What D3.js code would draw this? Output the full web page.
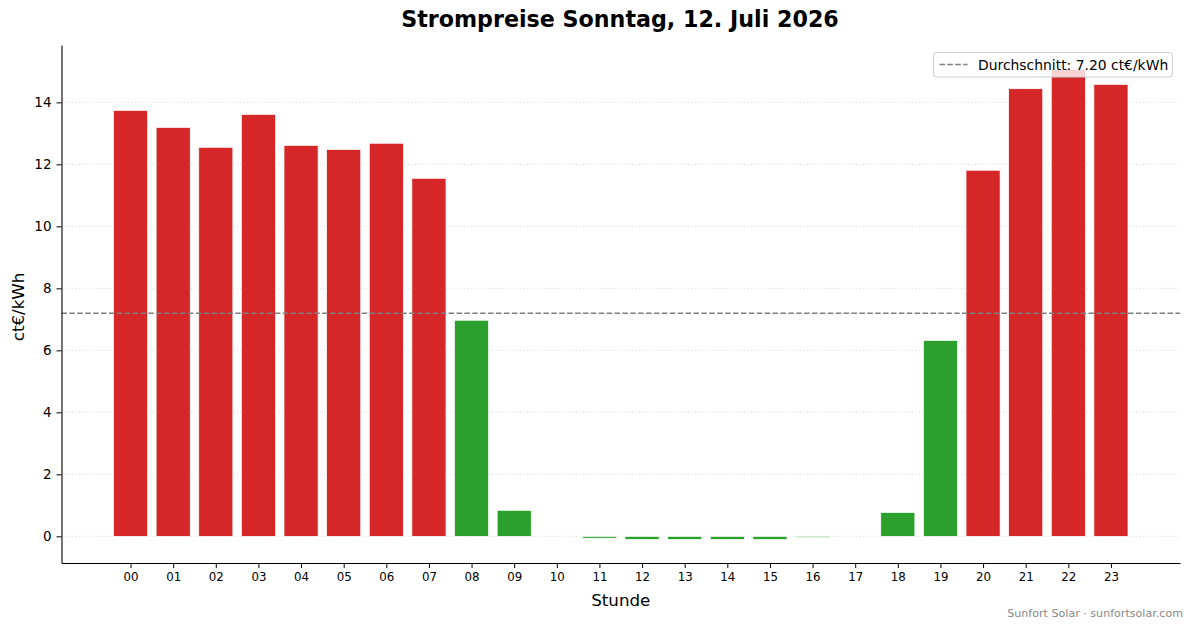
<!DOCTYPE html>
<html>
<head>
<meta charset="utf-8">
<script src="https://cdn.jsdelivr.net/npm/d3@7"></script>
<style>
  body { margin: 0; background: #fff; }
  svg { display: block; font-family: "DejaVu Sans", sans-serif; }
</style>
</head>
<body>
<svg id="chart" width="1193" height="628"></svg>
<script>
// Hourly prices (ct€/kWh)
const hours = ['00','01','02','03','04','05','06','07','08','09','10','11',
               '12','13','14','15','16','17','18','19','20','21','22','23'];
const prices = [13.74, 13.19, 12.55, 13.61, 12.61, 12.48, 12.68, 11.55,
                6.97, 0.84, 0.0, -0.06, -0.1, -0.1, -0.1, -0.1, -0.04, 0.0,
                0.77, 6.32, 11.81, 14.44, 15.07, 14.58];
const average = 7.20;
const yTicks = [0, 2, 4, 6, 8, 10, 12, 14];

const titleText = 'Strompreise Sonntag, 12. Juli 2026';
const xLabel = 'Stunde';
const yLabel = 'ct€/kWh';
const legendText = 'Durchschnitt: 7.20 ct€/kWh';
const footer = 'Sunfort Solar · sunfortsolar.com';

const RED = '#d62728';
const GREEN = '#2ca02c';

const MARGIN = { top: 45, right: 13, bottom: 65, left: 61.5 };
const W = 1193, H = 628;
const innerW = W - MARGIN.left - MARGIN.right;
const innerH = H - MARGIN.top - MARGIN.bottom;

const svg = d3.select('#chart');

const x = d3.scaleLinear().domain([-1.62, 24.62]).range([0, innerW]);
const y = d3.scaleLinear().domain([-0.86, 15.85]).range([innerH, 0]);
const barW = x(0.8) - x(0);

const g = svg.append('g').attr('transform', `translate(${MARGIN.left},${MARGIN.top})`);

// grid
g.append('g')
  .selectAll('line')
  .data(yTicks)
  .join('line')
  .attr('x1', 0).attr('x2', innerW)
  .attr('y1', d => y(d)).attr('y2', d => y(d))
  .attr('stroke', '#d4d4d4')
  .attr('stroke-width', 0.9)
  .attr('stroke-dasharray', '1,2.5');

// bars
g.append('g')
  .selectAll('rect')
  .data(prices)
  .join('rect')
  .attr('x', (d, i) => x(i) - barW / 2)
  .attr('y', d => y(Math.max(0, d)))
  .attr('width', barW)
  .attr('height', d => Math.abs(y(d) - y(0)))
  .attr('fill', d => d > average ? RED : GREEN)
  .attr('stroke', '#fff')
  .attr('stroke-width', 0.7);

// average line
g.append('line')
  .attr('x1', 0).attr('x2', innerW)
  .attr('y1', y(average)).attr('y2', y(average))
  .attr('stroke', '#7f7f7f')
  .attr('stroke-width', 1.5)
  .attr('stroke-dasharray', '5.5,2.4');

// axes
const yAxis = g.append('g')
  .call(d3.axisLeft(y).tickValues(yTicks).tickSize(5).tickPadding(5).tickSizeOuter(0));
yAxis.selectAll('text').style('font-size', '13.5px').attr('fill', '#000');

const xAxis = g.append('g')
  .attr('transform', `translate(0,${innerH})`)
  .call(d3.axisBottom(x).tickValues(d3.range(hours.length)).tickFormat(i => hours[i])
    .tickSize(5).tickPadding(5).tickSizeOuter(0));
xAxis.selectAll('text').style('font-size', '11.8px').attr('fill', '#000');

[yAxis, xAxis].forEach(a => {
  a.select('.domain').attr('stroke', '#000').attr('stroke-width', 1.1);
  a.selectAll('.tick line').attr('stroke', '#000').attr('stroke-width', 1);
  a.style('font-family', '"DejaVu Sans", sans-serif');
});

// axis labels
svg.append('text')
  .attr('x', MARGIN.left + innerW / 2)
  .attr('y', 606)
  .attr('text-anchor', 'middle')
  .style('font-size', '16.7px')
  .text(xLabel);

svg.append('text')
  .attr('transform', `translate(24,${MARGIN.top + y(7.4)}) rotate(-90)`)
  .attr('text-anchor', 'middle')
  .style('font-size', '16.7px')
  .text(yLabel);

// title
svg.append('text')
  .attr('x', 620)
  .attr('y', 27)
  .attr('text-anchor', 'middle')
  .style('font-size', '22.2px')
  .style('font-weight', 'bold')
  .text(titleText);

// legend
const legend = svg.append('g').attr('transform', 'translate(933.5,52.5)');
legend.append('rect')
  .attr('width', 239).attr('height', 24.5)
  .attr('rx', 3)
  .attr('fill', 'rgba(255,255,255,0.8)')
  .attr('stroke', '#cccccc')
  .attr('stroke-width', 1);
legend.append('line')
  .attr('x1', 6).attr('x2', 34)
  .attr('y1', 12).attr('y2', 12)
  .attr('stroke', '#7f7f7f')
  .attr('stroke-width', 1.5)
  .attr('stroke-dasharray', '5.5,2.4');
legend.append('text')
  .attr('x', 44.5).attr('y', 17)
  .style('font-size', '13.9px')
  .text(legendText);

// footer
svg.append('text')
  .attr('x', 1183)
  .attr('y', 617)
  .attr('text-anchor', 'end')
  .style('font-size', '11.1px')
  .attr('fill', '#888')
  .text(footer);
</script>
</body>
</html>
